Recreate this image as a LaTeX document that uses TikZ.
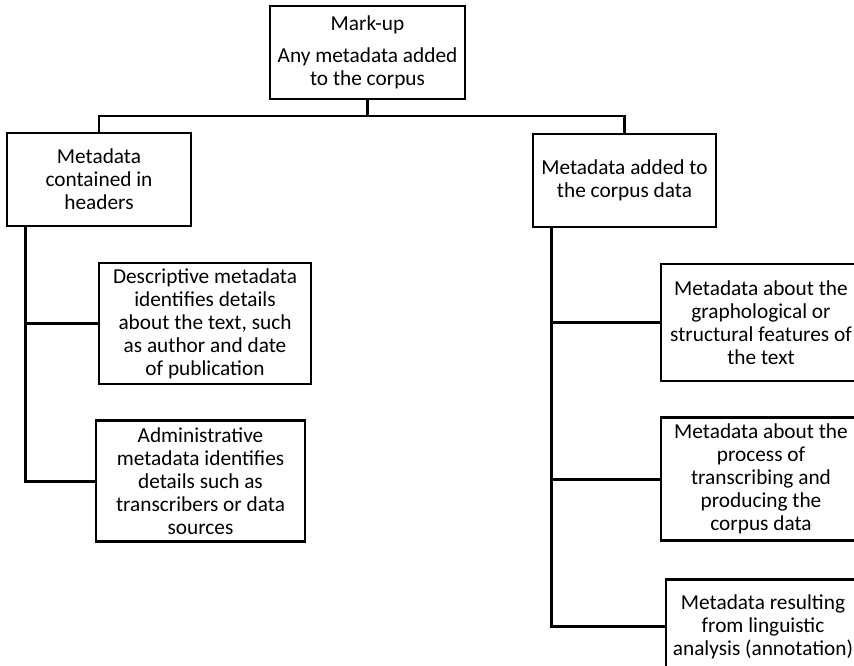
\documentclass[tikz,border=0pt]{standalone}
\usepackage{fontspec}
\setmainfont{Carlito}
\usetikzlibrary{positioning}

\begin{document}
\begin{tikzpicture}[x=1pt, y=-1pt,
  font=\fontsize{21.3pt}{23pt}\selectfont,
  box/.style={draw, line width=2.8pt, align=center, inner sep=0pt, fill=white},
  link/.style={line width=2.8pt}]
\useasboundingbox (0,0) rectangle (854,665);
% top
\node[box, minimum width=195pt, minimum height=93pt] (markup) at (367.5,52.5) {Mark-up\\[9pt]Any metadata added\\to the corpus};
% left branch
\node[box, minimum width=184pt, minimum height=93pt] (headers) at (99,179.5) {Metadata\\contained in\\headers};
\node[box, minimum width=212pt, minimum height=121pt] (descr) at (205,323.5) {Descriptive metadata\\identifies details\\about the text, such\\as author and date\\of publication};
\node[box, minimum width=209pt, minimum height=121pt, below=34pt of descr, xshift=-4.5pt] (admin) {Administrative\\metadata identifies\\details such as\\transcribers or data\\sources};
% right branch
\node[box, minimum width=183pt, minimum height=93pt] (added) at (624.5,180.5) {Metadata added to\\the corpus data};
\node[box, minimum width=200pt, minimum height=117pt] (graph) at (761,322.5) {Metadata about the\\graphological or\\structural features of\\the text};
\node[box, minimum width=200pt, minimum height=123pt, below=34pt of graph] (process) {Metadata about the\\process of\\transcribing and\\producing the\\corpus data};
\node[box, minimum width=194pt, minimum height=94pt, below=36pt of process, xshift=2pt] (ling) {Metadata resulting\\from linguistic\\analysis (annotation)};
% connectors
\coordinate (split) at (367.5,116);
\draw[link] (markup.south) -- (split) -| (headers.north);
\draw[link] (split) -| (added.north);
\draw[link] ([xshift=20pt]headers.south west) |- (descr.west);
\draw[link] ([xshift=20pt]headers.south west) |- (admin.west);
\draw[link] ([xshift=20pt]added.south west) |- (graph.west);
\draw[link] ([xshift=20pt]added.south west) |- (process.west);
\draw[link] ([xshift=20pt]added.south west) |- (ling.west);
\end{tikzpicture}
\end{document}
